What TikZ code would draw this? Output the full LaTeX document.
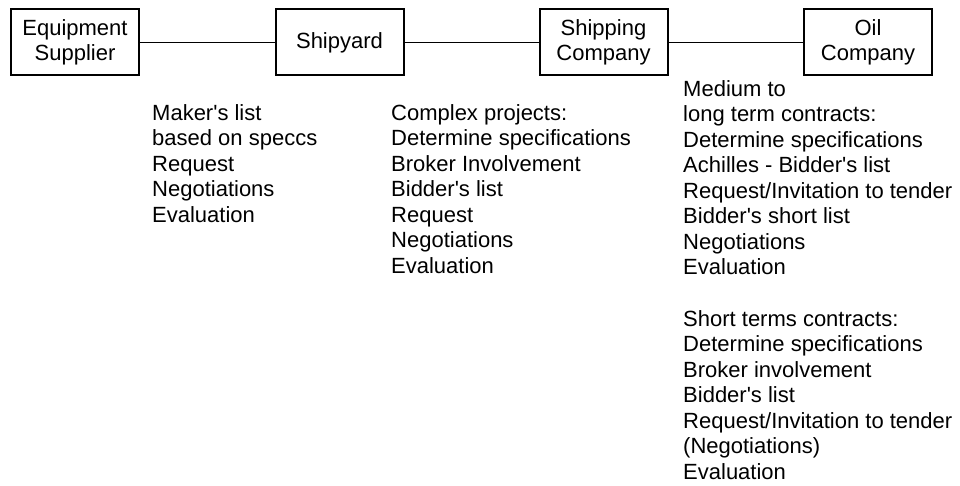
\documentclass[tikz,border=0pt]{standalone}
\usepackage{fontspec}
\setmainfont{Liberation Sans}[Ligatures=TeXOff]
\newcommand\diagfont{\fontsize{22}{25.5}\selectfont}
\begin{document}
\begin{tikzpicture}[x=1pt, y=-1pt,
  party/.style={draw, line width=2pt, minimum width=128pt, minimum height=66pt,
                inner sep=0pt, align=center, font=\diagfont},
  steps/.style={anchor=north west, inner sep=0pt, align=left, font=\diagfont},
  link/.style={line width=1.7pt}]
  \useasboundingbox (0,0) rectangle (960,486);

  % the four parties of the supply chain
  \node[party] (supplier) at (75,42.5)    {Equipment\\Supplier};
  \node[party] (yard)     at (339.5,42.5) {Shipyard};
  \node[party] (shipping) at (603.5,42.5) {Shipping\\Company};
  \node[party] (oil)      at (868,42.5)   {Oil\\Company};

  \draw[link] (supplier) -- (yard);
  \draw[link] (yard) -- (shipping);
  \draw[link] (shipping) -- (oil);

  % purchasing steps of each buyer
  \node[steps] (yardsteps) at (152,104)
    {Maker's list\\based on speccs\\Request\\Negotiations\\Evaluation};
  \node[steps] (shipsteps) at (391,104)
    {Complex projects:\\Determine specifications\\Broker Involvement\\Bidder's list\\Request\\Negotiations\\Evaluation};
  \node[steps] (oillong) at (683,80)
    {Medium to\\long term contracts:\\Determine specifications\\Achilles - Bidder's list\\Request/Invitation to tender\\Bidder's short list\\Negotiations\\Evaluation};
  \node[steps] (oilshort) at (683,310)
    {Short terms contracts:\\Determine specifications\\Broker involvement\\Bidder's list\\Request/Invitation to tender\\(Negotiations)\\Evaluation};
\end{tikzpicture}
\end{document}
